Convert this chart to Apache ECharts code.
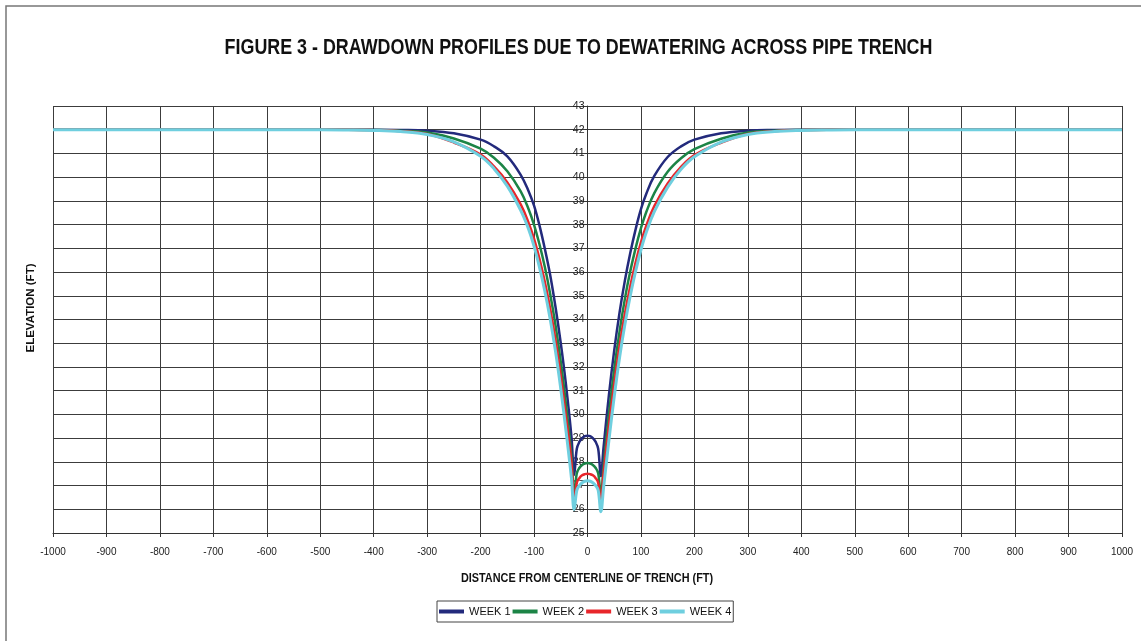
<!DOCTYPE html>
<html>
<head>
<meta charset="utf-8">
<script src="https://cdn.jsdelivr.net/npm/echarts@6/dist/echarts.min.js"></script>
<style>
html,body{margin:0;padding:0;background:#fff;}
#chart{width:1141px;height:641px;}
</style>
</head>
<body>
<div id="chart"></div>
<script>
// Distance from centerline of trench (ft)
const distance = [-1000,-900,-800,-700,-600,-500,-450,-400,-350,-300,-250,-200,-175,-150,-125,-110,-100,-90,-80,-70,-60,-50,-40,-30,-25,
  -20,-15,-10,-5,0,5,10,15,20,
  25,30,40,50,60,70,80,90,100,110,125,150,175,200,250,300,350,400,450,500,600,700,800,900,1000];

// Elevation (ft) per week
const week1 = [42,42,42,42,42,42,42,42,41.99,41.96,41.85,41.58,41.3,40.88,40.1,39.4,38.8,37.98,37.0,35.9,34.55,33.0,31.2,29.05,27.45,
  28.55,28.85,29.0,29.08,29.1,29.08,29.0,28.85,28.55,
  27.4,28.6,30.8,32.7,34.3,35.65,36.8,37.8,38.65,39.3,40.05,40.85,41.3,41.58,41.85,41.96,41.99,42,42,42,42,42,42,42,42];
const week2 = [42,42,42,42,42,42,42,41.99,41.96,41.88,41.63,41.2,40.82,40.25,39.4,38.64,37.99,37.18,36.23,35.1,33.78,32.22,30.38,28.24,26.6,
  27.52,27.75,27.87,27.93,27.95,27.93,27.87,27.75,27.52,
  26.6,27.8,30.0,31.9,33.5,34.88,36.03,37.01,37.85,38.53,39.33,40.23,40.8,41.18,41.62,41.88,41.96,41.99,42,42,42,42,42,42,42];
const week3 = [42,42,42,42,42,42,42,41.98,41.94,41.82,41.46,40.95,40.45,39.78,38.85,38.06,37.4,36.57,35.6,34.48,33.17,31.62,29.86,27.98,26.3,
  27.12,27.32,27.43,27.48,27.5,27.48,27.43,27.32,27.12,
  26.3,27.5,29.5,31.3,32.9,34.25,35.4,36.4,37.25,37.95,38.78,39.73,40.43,40.93,41.45,41.82,41.94,41.98,42,42,42,42,42,42,42];
const week4 = [42,42,42,42,42,42,41.99,41.97,41.92,41.8,41.49,40.88,40.36,39.62,38.6,37.8,37.09,36.22,35.21,34.04,32.68,31.08,29.27,27.3,26.0,
  26.8,27.01,27.12,27.18,27.2,27.18,27.12,27.01,26.8,
  25.9,26.9,28.9,30.75,32.4,33.8,35.0,36.04,36.94,37.68,38.55,39.58,40.33,40.86,41.48,41.8,41.92,41.97,41.99,42,42,42,42,42,42];

const seriesNames = ['WEEK 1','WEEK 2','WEEK 3','WEEK 4'];
const seriesValues = [week1, week2, week3, week4];
const seriesColors = ['#232a7c','#1c8446','#e8262b','#6fcfdf'];
const seriesWidths = [2.5, 2.5, 2.5, 3];

const titleText = 'FIGURE 3 - DRAWDOWN PROFILES DUE TO DEWATERING ACROSS PIPE TRENCH';
const xTitle = 'DISTANCE FROM CENTERLINE OF TRENCH (FT)';
const yTitle = 'ELEVATION (FT)';

const SANS = '"Liberation Sans",Arial,sans-serif';

const chart = echarts.init(document.getElementById('chart'), null, {renderer: 'canvas'});
const gridColor = '#3c3c3c';

chart.setOption({
  animation: false,
  backgroundColor: '#fff',
  legend: {
    data: seriesNames,
    left: 437, top: 601,
    icon: 'rect', itemWidth: 25, itemHeight: 4, itemGap: 2,
    borderColor: '#444', borderWidth: 1, padding: [5, 2],
    textStyle: {fontFamily: SANS, fontSize: 11, color: '#111'}
  },
  grid: {left: 53, right: 19, top: 106, bottom: 108, outerBoundsMode: 'none', containLabel: false},
  xAxis: {
    type: 'value', min: -1000, max: 1000, interval: 100,
    axisLine: {lineStyle: {color: '#333', width: 1}},
    axisTick: {show: true, length: 4, lineStyle: {color: '#333'}},
    axisLabel: {fontFamily: SANS, fontSize: 10, color: '#222', margin: 14, formatter: v => String(v)},
    splitLine: {show: true, lineStyle: {color: gridColor, width: 1}}
  },
  yAxis: {
    type: 'value', min: 25, max: 43, interval: 1,
    offset: -534.5,
    axisLine: {show: true, onZero: false, lineStyle: {color: '#333', width: 1}},
    axisTick: {show: true, length: 3, lineStyle: {color: '#333'}},
    axisLabel: {fontFamily: SANS, fontSize: 10.5, color: '#222', margin: 3},
    splitLine: {show: true, lineStyle: {color: gridColor, width: 1}}
  },
  graphic: [
    {type: 'rect', shape: {x: 6, y: 6, width: 1160, height: 660}, style: {fill: null, stroke: '#777', lineWidth: 1.5}, silent: true},
    {type: 'text', x: 578.5, y: 48, scaleX: 0.813,
     style: {text: titleText, fontFamily: SANS, fontWeight: 'bold', fontSize: 22, fill: '#111', textAlign: 'center', textVerticalAlign: 'middle'}},
    {type: 'text', x: 587, y: 578, scaleX: 0.836,
     style: {text: xTitle, fontFamily: SANS, fontWeight: 'bold', fontSize: 13, fill: '#111', textAlign: 'center', textVerticalAlign: 'middle'}},
    {type: 'text', x: 31, y: 308, rotation: Math.PI / 2,
     style: {text: yTitle, fontFamily: SANS, fontWeight: 'bold', fontSize: 11.5, fill: '#111', textAlign: 'center', textVerticalAlign: 'middle'}}
  ],
  series: seriesNames.map((name, k) => ({
    name: name,
    type: 'line',
    showSymbol: false,
    symbol: 'none',
    smooth: 0.4,
    color: seriesColors[k],
    lineStyle: {color: seriesColors[k], width: seriesWidths[k]},
    data: distance.map((d, i) => [d, seriesValues[k][i]])
  }))
});
</script>
</body>
</html>
